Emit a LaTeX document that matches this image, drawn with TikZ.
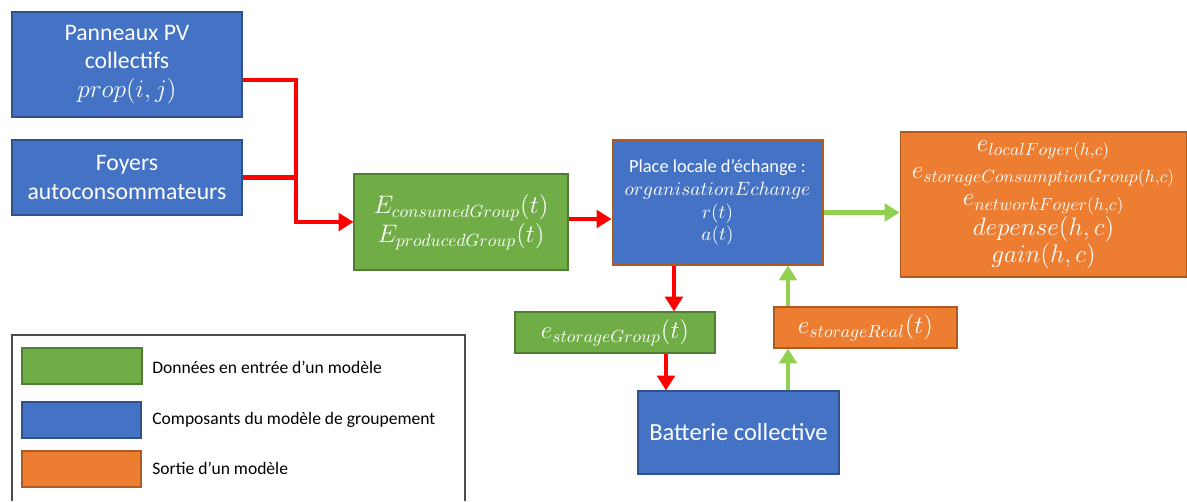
\documentclass[tikz,border=0pt]{standalone}
\usepackage{fontspec}
\setmainfont{Carlito}
\usetikzlibrary{arrows.meta}
\definecolor{bleu}{HTML}{4472C4}
\definecolor{bleubord}{HTML}{2F528F}
\definecolor{vert}{HTML}{70AD47}
\definecolor{vertbord}{HTML}{507E32}
\definecolor{orangebox}{HTML}{ED7D31}
\definecolor{orangebord}{HTML}{AE5A21}
\definecolor{vertclair}{HTML}{92D050}
\definecolor{rouge}{HTML}{FF0000}
\tikzset{
  bloc/.style={draw, line width=0.6pt, text=white, align=center, inner sep=0pt},
  composant/.style={bloc, fill=bleu, draw=bleubord},
  entree/.style={bloc, fill=vert, draw=vertbord},
  sortie/.style={bloc, fill=orangebox, draw=orangebord},
  flux/.style={rouge, line width=2.3pt, -{Triangle[length=8.5pt,width=10pt]}},
  retour/.style={vertclair, line width=2.3pt, -{Triangle[length=8.5pt,width=10pt]}},
  legende/.style={anchor=west, inner sep=0pt, font=\fontsize{10}{12}\selectfont}
}
\begin{document}
\begin{tikzpicture}[x=0.02cm, y=-0.02cm]
    \useasboundingbox (0,0) rectangle (1187,501);
    % blocs du modele
    \node[composant, minimum width=4.6cm, minimum height=2.1cm, font=\fontsize{13.5}{16}\selectfont] (pv) at (127,64.5) {Panneaux PV\\collectifs\\$prop(i,j)$};
    \node[composant, minimum width=4.6cm, minimum height=1.5cm, font=\fontsize{13.5}{16}\selectfont] (foyers) at (127,177.5) {Foyers\\autoconsommateurs};
    \node[entree, minimum width=4.28cm, minimum height=1.92cm, font=\fontsize{14}{16.5}\selectfont] (donnees) at (461,222) {$E_{consumedGroup}(t)$\\$E_{producedGroup}(t)$};
    \node[composant, draw=orangebord, minimum width=4.22cm, minimum height=2.5cm, font=\fontsize{10.5}{13}\selectfont] (place) at (717.5,202.5) {Place locale d'échange :\\$organisationEchange$\\$r(t)$\\$a(t)$};
    \node[sortie, minimum width=5.74cm, minimum height=2.9cm, font=\fontsize{14.5}{15.5}\selectfont] (resultats) at (1043.5,204.5) {$e_{localFoyer(h,c)}$\\$e_{storageConsumptionGroup(h,c)}$\\$e_{networkFoyer(h,c)}$\\$depense(h,c)$\\$gain(h,c)$};
    \node[entree, minimum width=4cm, minimum height=0.82cm, font=\fontsize{14}{16}\selectfont] (stockgroupe) at (615,332.5) {$e_{storageGroup}(t)$};
    \node[sortie, minimum width=3.66cm, minimum height=0.82cm, font=\fontsize{14}{16}\selectfont] (stockreel) at (865.5,327.5) {$e_{storageReal}(t)$};
    \node[composant, minimum width=4.02cm, minimum height=1.66cm, font=\fontsize{14}{16}\selectfont] (batterie) at (738.5,432.5) {Batterie collective};

    % liaisons
    \coordinate (jonction) at (296,177.5);
    \coordinate (axe) at (788,0);
    \draw[flux] ([yshift=-0.31cm]pv.east) -| (jonction) |- (donnees);
    \draw[rouge, line width=2.3pt] (foyers.east) -- (jonction);
    \draw[flux] ([yshift=0.06cm]donnees.east) -- ([yshift=0.06cm]donnees.east -| place.west);
    \draw[retour] ([yshift=-0.2cm]place.east) -- ([yshift=-0.2cm]place.east -| resultats.west);
    \draw[flux] ([xshift=-0.87cm]place.south) -- ([xshift=-0.87cm]place.south |- stockgroupe.north);
    \draw[flux] ([xshift=1.02cm]stockgroupe.south) -- ([xshift=1.02cm]stockgroupe.south |- batterie.north);
    \draw[retour] (batterie.north -| axe) -- (stockreel.south -| axe);
    \draw[retour] (stockreel.north -| axe) -- (place.south -| axe);

    % legende
    \draw[black!70, line width=0.6pt] (12,501) -- (12,335) -- (465,335) -- (465,501);
    \node[entree, minimum width=2.4cm, minimum height=0.72cm] (legvert) at (82,366) {};
    \node[composant, minimum width=2.38cm, minimum height=0.72cm] (legbleu) at (81.5,420) {};
    \node[sortie, minimum width=2.38cm, minimum height=0.72cm] (legorange) at (81.5,469) {};
    \node[legende] (txtvert) at (152,367) {Données en entrée d'un modèle};
    \node[legende] (txtbleu) at (152,420) {Composants du modèle de groupement};
    \node[legende] (txtorange) at (152,468) {Sortie d'un modèle};
\end{tikzpicture}
\end{document}
